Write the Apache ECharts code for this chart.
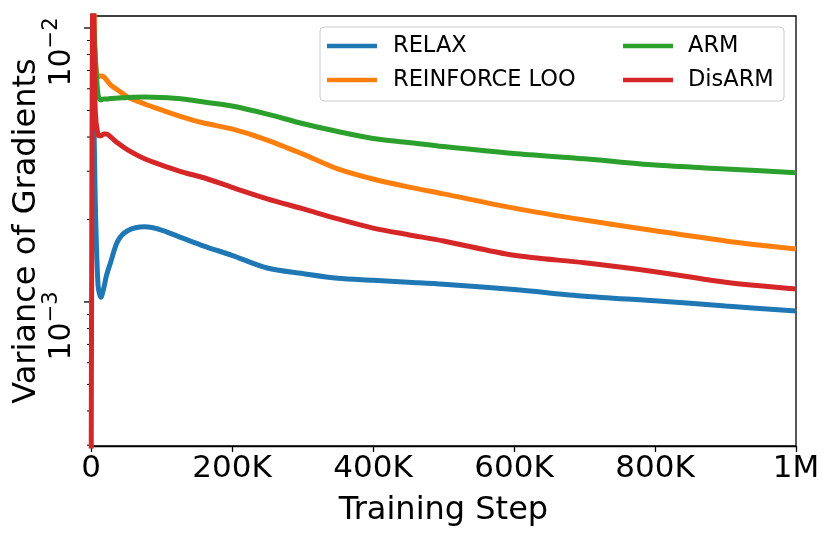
<!DOCTYPE html>
<html>
<head>
<meta charset="utf-8">
<script src="https://cdn.jsdelivr.net/npm/echarts@6/dist/echarts.min.js"></script>
<style>
html, body { margin: 0; padding: 0; background: #fff; }
#chart { width: 831px; height: 536px; }
</style>
</head>
<body>
<div id="chart"></div>
<script>
// training steps shared by all curves
var steps = [0, 3000, 6000, 10000, 14000, 18000, 22000, 28000, 38000, 52000, 76000,
    100000, 130000, 160000, 200000, 250000, 300000, 350000, 400000, 450000, 500000,
    600000, 700000, 800000, 900000, 1000000];

// variance of gradients
var relax = [0.03, 0.00764, 0.00236, 0.00115, 0.00104, 0.00112, 0.00125, 0.00140, 0.00167, 0.00182, 0.00188,
    0.00183, 0.00171, 0.00160, 0.00148, 0.00133, 0.00127, 0.00122, 0.00120, 0.00118, 0.00116,
    0.00111, 0.00105, 0.00101, 0.000967, 0.000927];
var reinforceLoo = [0.03, 0.02, 0.00764, 0.00663, 0.00668, 0.00663, 0.00646, 0.00619, 0.00594, 0.00560, 0.00528,
    0.00502, 0.00473, 0.00450, 0.00428, 0.00390, 0.00347, 0.00306, 0.00281, 0.00263, 0.00248,
    0.00220, 0.00199, 0.00182, 0.00167, 0.00156];
var arm = [0.03, 0.0116, 0.00797, 0.00570, 0.00546, 0.00551, 0.00551, 0.00553, 0.00555, 0.00558, 0.00560,
    0.00558, 0.00551, 0.00537, 0.00519, 0.00485, 0.00448, 0.00419, 0.00395, 0.00382, 0.00369,
    0.00348, 0.00333, 0.00316, 0.00306, 0.00296];
var disarm = [0.0001, 0.02, 0.00502, 0.00407, 0.00404, 0.00410, 0.00410, 0.00400, 0.00380, 0.00359, 0.00333,
    0.00316, 0.00298, 0.00284, 0.00262, 0.00238, 0.00219, 0.00201, 0.00186, 0.00176, 0.00167,
    0.00148, 0.00139, 0.00129, 0.00118, 0.001115];

var names = ["RELAX", "REINFORCE LOO", "ARM", "DisARM"];
var colors = ["#1f77b4", "#ff7f0e", "#2ca02c", "#d62728"];

// log axis ticks (matplotlib style)
var majorTicks = [0.001, 0.01];
var minorTicks = [0.0003, 0.0004, 0.0005, 0.0006, 0.0007, 0.0008, 0.0009,
    0.002, 0.003, 0.004, 0.005, 0.006, 0.007, 0.008, 0.009];

var font = "DejaVu Sans";

function pairs(vals) {
    return steps.map(function (s, i) { return [s, vals[i]]; });
}

function lineSeries(name, vals, color) {
    return {
        name: name,
        type: "line",
        data: pairs(vals),
        showSymbol: false,
        smooth: 0.3,
        clip: true,
        lineStyle: { width: 5, color: color },
        itemStyle: { color: color },
        emphasis: { disabled: true }
    };
}

var tickData = [];
majorTicks.forEach(function (v) { tickData.push([0, v, 7]); });
minorTicks.forEach(function (v) { tickData.push([0, v, 4]); });

var chart = echarts.init(document.getElementById("chart"));
var option = {
    animation: false,
    backgroundColor: "#fff",
    textStyle: { fontFamily: font },
    grid: {
        left: 91, top: 16, right: 35, bottom: 90,
        outerBoundsMode: "none",
        containLabel: false,
        show: true, borderColor: "#000", borderWidth: 1.3
    },
    graphic: [{
        type: "rect",
        z: 3,
        shape: { x: 320, y: 27, width: 464, height: 74, r: 4 },
        style: { fill: "rgba(255,255,255,0.8)", stroke: "#cccccc", lineWidth: 1 }
    }],
    legend: [{
        data: ["RELAX", "REINFORCE LOO"],
        orient: "vertical",
        left: 327, top: 34, padding: 0,
        icon: "rect", itemWidth: 50, itemHeight: 4.5, itemGap: 10,
        textStyle: { fontSize: 22.5, color: "#000", fontFamily: font, lineHeight: 24, padding: [0, 0, 0, 11] }
    }, {
        data: ["ARM", "DisARM"],
        orient: "vertical",
        left: 623, top: 34, padding: 0,
        icon: "rect", itemWidth: 50, itemHeight: 4.5, itemGap: 10,
        textStyle: { fontSize: 22.5, color: "#000", fontFamily: font, lineHeight: 24, padding: [0, 0, 0, 10] }
    }],
    xAxis: {
        type: "value",
        min: 0, max: 1000000, interval: 200000,
        name: "Training Step",
        nameLocation: "middle",
        nameGap: 49,
        nameTextStyle: { fontSize: 32, color: "#000", fontFamily: font },
        axisLine: { lineStyle: { color: "#000", width: 1.3 } },
        axisTick: { show: true, length: 6, lineStyle: { color: "#000", width: 1.3 } },
        splitLine: { show: false },
        axisLabel: {
            fontSize: 31, color: "#000", margin: 7, fontFamily: font,
            formatter: function (v) {
                if (v === 0) return "0";
                if (v === 1000000) return "1M";
                return (v / 1000) + "K";
            }
        }
    },
    yAxis: {
        type: "log",
        min: 0.000298, max: 0.01106,
        name: "Variance of Gradients",
        nameLocation: "middle",
        nameGap: 48,
        nameMoveOverlap: false,
        nameTextStyle: { fontSize: 32, color: "#000", fontFamily: font },
        axisLine: { lineStyle: { color: "#000", width: 1.3 } },
        axisTick: { show: false },
        splitLine: { show: false },
        axisLabel: {
            rotate: 90,
            margin: 14,
            padding: [0, 48, 0, 0],
            color: "#000",
            fontFamily: font,
            formatter: function (v) {
                var l = Math.log10(v);
                var e = Math.round(l);
                if (Math.abs(l - e) > 1e-6) return "";
                return "{b|10}{s|\u2212" + (-e) + "}";
            },
            rich: {
                b: { fontSize: 30, fontFamily: font, color: "#000", verticalAlign: "bottom", lineHeight: 36 },
                s: { fontSize: 21, fontFamily: font, color: "#000", verticalAlign: "top", lineHeight: 21 }
            }
        }
    },
    series: [
        lineSeries(names[0], relax, colors[0]),
        lineSeries(names[1], reinforceLoo, colors[1]),
        lineSeries(names[2], arm, colors[2]),
        lineSeries(names[3], disarm, colors[3]),
        {
            type: "custom",
            silent: true,
            clip: false,
            data: tickData,
            renderItem: function (params, api) {
                var p = api.coord([api.value(0), api.value(1)]);
                var len = api.value(2);
                return {
                    type: "line",
                    shape: { x1: p[0] - len, y1: p[1], x2: p[0], y2: p[1] },
                    style: { stroke: "#000", lineWidth: len > 5 ? 1.3 : 1 }
                };
            }
        }
    ]
};
chart.setOption(option);
</script>
</body>
</html>
